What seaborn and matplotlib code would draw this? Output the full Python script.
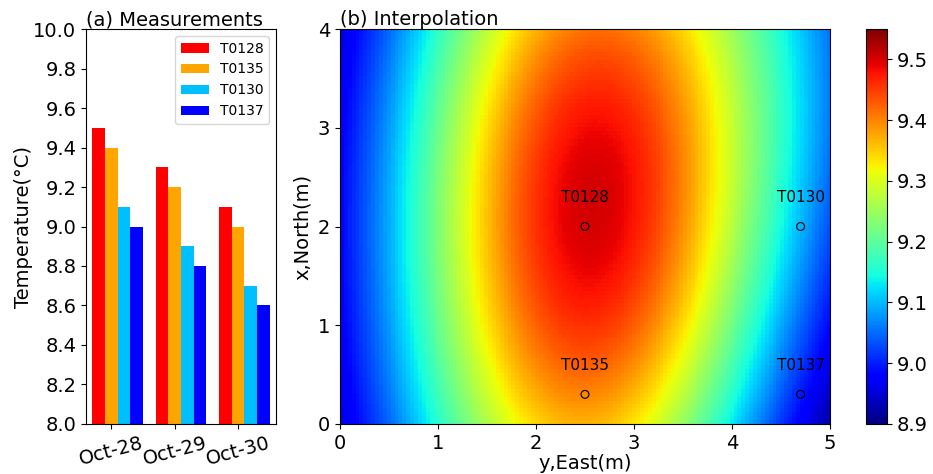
import numpy as np
import pandas as pd
import matplotlib
matplotlib.use("Agg")
import matplotlib.pyplot as plt
import seaborn as sns

# ---------------- data ----------------
days = ["Oct-28", "Oct-29", "Oct-30"]
sensors = ["T0128", "T0135", "T0130", "T0137"]
t0128 = [9.5, 9.3, 9.1]
t0135 = [9.4, 9.2, 9.0]
t0130 = [9.1, 8.9, 8.7]
t0137 = [9.0, 8.8, 8.6]
bar_colors = ["red", "orange", "deepskyblue", "blue"]

# sensor positions (East, North) in metres and the values interpolated (Oct-28)
sensor_east = [2.5, 2.5, 4.7, 4.7]
sensor_north = [2.0, 0.3, 2.0, 0.3]
sensor_vals = [9.5, 9.4, 9.1, 9.0]

# ---------------- figure ----------------
fig = plt.figure(figsize=(9.33, 4.74), dpi=100)
ax1 = fig.add_axes([0.0922, 0.1055, 0.2036, 0.8333])
ax2 = fig.add_axes([0.3644, 0.1055, 0.5252, 0.8333])
cax = fig.add_axes([0.9282, 0.1055, 0.0225, 0.8333])

# (a) bar chart
vals = [t0128, t0135, t0130, t0137]
df = pd.DataFrame({
    "day": [d for s in sensors for d in days],
    "sensor": [s for s in sensors for d in days],
    "temp": [v for series in vals for v in series],
})
sns.barplot(data=df, x="day", y="temp", hue="sensor", hue_order=sensors,
            palette=bar_colors, saturation=1, linewidth=0, ax=ax1, errorbar=None)
ax1.set_ylim(8.0, 10.0)
ax1.set_xlim(-0.5, 2.5)
ax1.set_yticks(np.arange(8.0, 10.01, 0.2))
ax1.set_yticklabels([f"{v:.1f}" for v in np.arange(8.0, 10.01, 0.2)])
ax1.set_xticks([i - 0.1 for i in range(len(days))])
ax1.set_xticklabels(days, rotation=15)
ax1.tick_params(labelsize=14)
ax1.set_xlabel("")
ax1.set_ylabel("Temperature(°C)", fontsize=14, labelpad=0)
ax1.set_title("(a) Measurements", loc="left", fontsize=14, pad=1)
ax1.legend(loc="upper right", fontsize=10)

# (b) interpolation: Gaussian-process (simple kriging) through the sensor values
pe = np.array(sensor_east)
pn = np.array(sensor_north)
pv = np.array(sensor_vals)
mean0, lx, ly = 8.8, 1.55, 3.5

def kern(e1, n1, e2, n2):
    return np.exp(-(e1[:, None] - e2[None, :]) ** 2 / (2 * lx ** 2)
                  - (n1[:, None] - n2[None, :]) ** 2 / (2 * ly ** 2))

K = kern(pe, pn, pe, pn) + 1e-9 * np.eye(len(pv))
alpha = np.linalg.solve(K, pv - mean0)
ge = np.linspace(0, 5, 126)
gn = np.linspace(0, 4, 101)
GE, GN = np.meshgrid(ge, gn)
field = mean0 + kern(GE.ravel(), GN.ravel(), pe, pn) @ alpha
field = field.reshape(GE.shape)

im = ax2.imshow(field, origin="lower", extent=[0, 5, 0, 4], aspect="auto",
                cmap="jet", vmin=8.9, vmax=9.55, interpolation="nearest")
sns.scatterplot(x=sensor_east, y=sensor_north, ax=ax2, marker="o", s=32,
                facecolor="none", edgecolor="black", linewidth=0.8, legend=False)
for e, n, name in zip(sensor_east, sensor_north, sensors):
    pass
point_names = ["T0128", "T0135", "T0130", "T0137"]
for e, n, name in zip(sensor_east, sensor_north, point_names):
    ax2.text(e, n + 0.25, name, ha="center", va="baseline", fontsize=11)
ax2.set_xlim(0, 5)
ax2.set_ylim(0, 4)
ax2.set_xticks(range(0, 6))
ax2.set_yticks(range(0, 5))
ax2.tick_params(labelsize=14)
ax2.set_xlabel("y,East(m)", fontsize=14, labelpad=1)
ax2.set_ylabel("x,North(m)", fontsize=14)
ax2.set_title("(b) Interpolation", loc="left", fontsize=14, pad=1)

cb = fig.colorbar(im, cax=cax, ticks=np.arange(8.9, 9.51, 0.1))
cb.ax.set_yticklabels([f"{v:.1f}" for v in np.arange(8.9, 9.51, 0.1)])
cb.ax.tick_params(labelsize=14)

fig.savefig("out.png", dpi=100)
